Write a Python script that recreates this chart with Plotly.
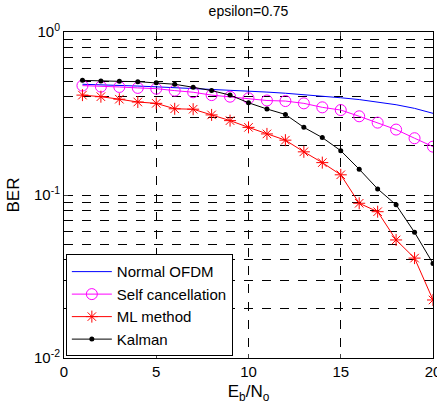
import plotly.graph_objects as go

snr = list(range(1, 21))
normal_ofdm = [0.478, 0.475, 0.471, 0.466, 0.461, 0.456, 0.451, 0.446, 0.440, 0.434,
               0.428, 0.421, 0.413, 0.404, 0.395, 0.385, 0.373, 0.358, 0.340, 0.317]
self_cancel = [0.469, 0.462, 0.460, 0.454, 0.449, 0.437, 0.427, 0.410, 0.401, 0.392,
               0.380, 0.377, 0.365, 0.345, 0.332, 0.304, 0.278, 0.252, 0.223, 0.198]
ml_method = [0.410, 0.401, 0.387, 0.372, 0.365, 0.338, 0.336, 0.310, 0.286, 0.260,
             0.237, 0.217, 0.184, 0.158, 0.133, 0.089, 0.079, 0.053, 0.041, 0.0227]
kalman = [0.505, 0.500, 0.498, 0.496, 0.488, 0.478, 0.458, 0.437, 0.410, 0.368,
          0.337, 0.312, 0.260, 0.225, 0.187, 0.144, 0.109, 0.087, 0.059, 0.038]

y_major = [0.01, 0.1, 1]
y_major_text = ["10<sup>-2</sup>", "10<sup>-1</sup>", "10<sup>0</sup>"]
y_minor = [m * 10 ** e for e in (-2, -1) for m in range(2, 10)]
x_ticks = [0, 5, 10, 15, 20]

fig = go.Figure()
fig.add_trace(go.Scatter(x=snr, y=normal_ofdm, mode="lines", name="Normal OFDM",
                         line=dict(color="#0000ff", width=1)))
fig.add_trace(go.Scatter(x=snr, y=self_cancel, mode="lines+markers", name="Self cancellation",
                         line=dict(color="#ff00ff", width=1),
                         marker=dict(symbol="circle-open", size=11, color="#ff00ff", line=dict(width=1))))
fig.add_trace(go.Scatter(x=snr, y=ml_method, mode="lines+markers", name="ML method",
                         line=dict(color="#ff0000", width=1),
                         marker=dict(symbol="asterisk-open", size=10, color="#ff0000", line=dict(width=1, color="#ff0000"))))
fig.add_trace(go.Scatter(x=snr, y=kalman, mode="lines+markers", name="Kalman",
                         line=dict(color="#000000", width=1),
                         marker=dict(symbol="circle", size=5, color="#000000")))

fig.update_layout(
    width=437, height=408,
    margin=dict(l=64, r=4, t=32, b=50),
    paper_bgcolor="white", plot_bgcolor="white",
    font=dict(family="Liberation Sans, Arial, sans-serif", size=14, color="black"),
    title=dict(text="epsilon=0.75", x=0.5687, xanchor="center", y=0.985, yanchor="top",
               font=dict(size=14)),
    legend=dict(x=0.005, y=0.005, xanchor="left", yanchor="bottom",
                bgcolor="white", bordercolor="black", borderwidth=1,
                font=dict(size=15), itemwidth=40),
)
fig.update_xaxes(range=[0, 20], tickvals=x_ticks, ticks="inside", ticklen=4,
                 tickfont=dict(size=15), ticklabeloverflow="allow", automargin=False,
                 showline=True, linecolor="black", linewidth=1, mirror="ticks",
                 showgrid=True, gridcolor="black", griddash="dash", gridwidth=1,
                 zeroline=False, title=dict(text="E<sub>b</sub>/N<sub>o</sub>", standoff=6))
fig.update_yaxes(type="log", range=[-2, 0], tickvals=y_major, ticktext=y_major_text,
                 ticks="inside", ticklen=4, tickfont=dict(size=15), automargin=False,
                 minor=dict(tickvals=y_minor, showgrid=True, gridcolor="black", griddash="dash",
                            gridwidth=1, ticks="inside", ticklen=2, tickcolor="black"),
                 showline=True, linecolor="black", linewidth=1, mirror="ticks",
                 showgrid=True, gridcolor="black", griddash="dash", gridwidth=1,
                 zeroline=False, title=dict(text="BER", standoff=10))

fig.write_html("out.html", config={"displayModeBar": False},
               post_script="document.body.style.margin='0';document.body.style.padding='0';")
